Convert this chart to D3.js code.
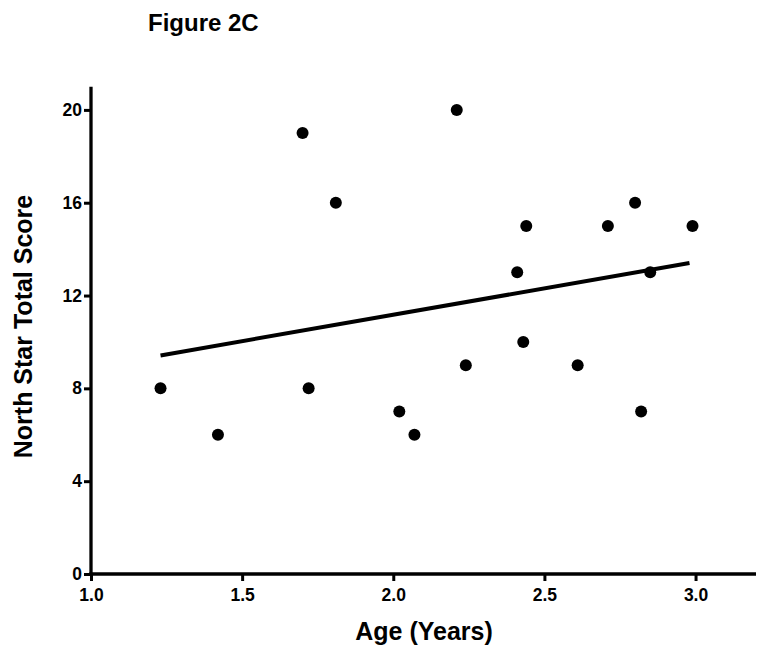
<!DOCTYPE html>
<html>
<head>
<meta charset="utf-8">
<script src="https://cdn.jsdelivr.net/npm/d3@7"></script>
<style>
  html, body { margin: 0; padding: 0; background: #fff; }
  svg { display: block; }
  text { font-family: "Liberation Sans", Arial, sans-serif; font-weight: bold; fill: #000; }
</style>
</head>
<body>
<svg id="chart" width="764" height="656"></svg>
<script>
// Data
const ageYears = [1.23, 1.42, 1.70, 1.72, 1.81, 2.02, 2.07, 2.21, 2.24, 2.41, 2.43, 2.44, 2.61, 2.71, 2.80, 2.82, 2.85, 2.99];
const northStarScore = [8, 6, 19, 8, 16, 7, 6, 20, 9, 13, 10, 15, 9, 15, 16, 7, 13, 15];
const fitLineX = [1.23, 2.98];
const fitLineY = [9.42, 13.40];
const xTicks = [1.0, 1.5, 2.0, 2.5, 3.0];
const yTicks = [0, 4, 8, 12, 16, 20];

const svg = d3.select("#chart");
const x = d3.scaleLinear().domain([1.0, 3.2]).range([91, 756]);
const y = d3.scaleLinear().domain([0, 21]).range([574, 86.7]);

// Title
svg.append("text").attr("x", 148).attr("y", 31)
  .style("font-size", "24px").text("Figure 2C");

// Axes
const xAxis = d3.axisBottom(x).tickValues(xTicks).tickFormat(d3.format(".1f"))
  .tickSize(7).tickSizeOuter(0).tickPadding(8);
const yAxis = d3.axisLeft(y).tickValues(yTicks).tickFormat(d3.format("d"))
  .tickSize(7).tickSizeOuter(0).tickPadding(2);

const gx = svg.append("g").attr("transform", `translate(0,${y(0)})`).call(xAxis);
const gy = svg.append("g").attr("transform", `translate(${x(1.0)},0)`).call(yAxis);

[gx, gy].forEach(g => {
  g.select(".domain").attr("stroke", "#000").attr("stroke-width", 3.3);
  g.selectAll(".tick line").attr("stroke", "#000").attr("stroke-width", 3);
  g.selectAll(".tick text").style("font-size", "17.5px")
    .style("font-family", "'Liberation Sans', Arial, sans-serif").style("font-weight", "bold");
});
gy.select(".domain").attr("d", `M0,${y(0) + 1.6}V${y.range()[1]}`);
gx.select(".domain").attr("d", `M${x(1.0) - 1.6},0H${x.range()[1]}`);

// Axis titles
svg.append("text").attr("x", 424).attr("y", 640).attr("text-anchor", "middle")
  .style("font-size", "25px").text("Age (Years)");
svg.append("text").attr("transform", "translate(32,326.5) rotate(-90)")
  .attr("text-anchor", "middle").style("font-size", "25px").text("North Star Total Score");

// Regression line
svg.append("line")
  .attr("x1", x(fitLineX[0])).attr("y1", y(fitLineY[0]))
  .attr("x2", x(fitLineX[1])).attr("y2", y(fitLineY[1]))
  .attr("stroke", "#000").attr("stroke-width", 4);

// Points
svg.append("g").selectAll("circle")
  .data(ageYears.map((a, i) => ({ a, s: northStarScore[i] })))
  .join("circle")
  .attr("cx", d => x(d.a)).attr("cy", d => y(d.s)).attr("r", 6).attr("fill", "#000");
</script>
</body>
</html>
